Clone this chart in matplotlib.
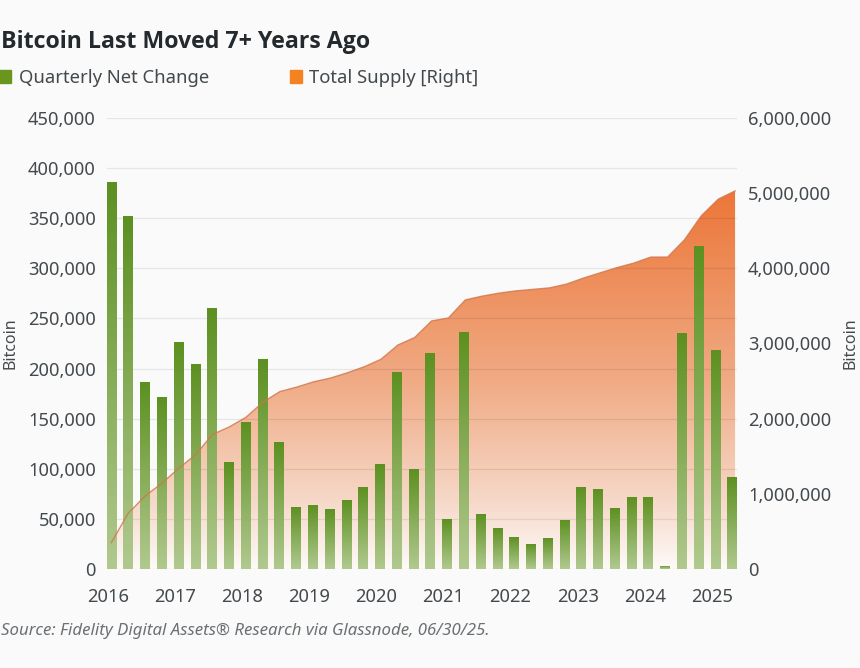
#!/usr/bin/env python3
"""Bitcoin last moved 7+ years ago: quarterly net change bars, total supply area."""

import matplotlib

matplotlib.use("Agg")
import matplotlib.pyplot as plt
import numpy as np
from matplotlib.colors import LinearSegmentedColormap
from matplotlib.patches import Patch
from matplotlib.ticker import FuncFormatter

plt.rcParams["font.family"] = ["Noto Sans", "DejaVu Sans"]

# One value per quarter, 2016 Q1 to 2025 Q2
net_change = [
    386000, 352000, 187000, 172000,
    226000, 205000, 260000, 107000,
    147000, 210000, 127000, 62000,
    64000, 60000, 69000, 82000,
    105000, 197000, 100000, 216000,
    50000, 236000, 55000, 41000,
    32000, 25000, 31000, 49000,
    82000, 80000, 61000, 72000,
    72000, 3000, 235000, 322000,
    219000, 92000,
]
total_supply = [
    350000, 740000, 970000, 1140000,
    1340000, 1520000, 1790000, 1890000,
    2020000, 2220000, 2360000, 2420000,
    2490000, 2540000, 2610000, 2690000,
    2790000, 2980000, 3080000, 3300000,
    3340000, 3580000, 3630000, 3670000,
    3700000, 3720000, 3740000, 3790000,
    3870000, 3940000, 4010000, 4070000,
    4150000, 4150000, 4380000, 4700000,
    4920000, 5030000,
]
year_labels = ["2016", "2017", "2018", "2019", "2020", "2021", "2022", "2023", "2024", "2025"]
left_ticks = [0, 50000, 100000, 150000, 200000, 250000, 300000, 350000, 400000, 450000]
right_ticks = [0, 1000000, 2000000, 3000000, 4000000, 5000000, 6000000]

BACKGROUND = "#fafafa"
TEXT_COLOR = "#43494d"
TITLE_COLOR = "#23292d"
GREEN = "#6a961f"
ORANGE = "#f58220"

WIDTH, HEIGHT = 860, 668
PLOT_LEFT, PLOT_RIGHT, PLOT_TOP, PLOT_BOTTOM = 107, 737, 118, 569

BAR_CMAP = LinearSegmentedColormap.from_list("bar", ["#b1c98f", "#5c9020"])
AREA_CMAP = LinearSegmentedColormap.from_list(
    "area",
    [(0.0, "#fdfaf8"), (0.18, "#f6d8c8"), (0.5, "#f0aa84"), (1.0, "#ec7638")],
)

fig = plt.figure(figsize=(WIDTH / 100, HEIGHT / 100), dpi=100, facecolor=BACKGROUND)
rect = [
    PLOT_LEFT / WIDTH,
    1 - PLOT_BOTTOM / HEIGHT,
    (PLOT_RIGHT - PLOT_LEFT) / WIDTH,
    (PLOT_BOTTOM - PLOT_TOP) / HEIGHT,
]

# Three stacked layers: area at the back, bars in the middle, supply line on top
ax_area = fig.add_axes(rect, facecolor=BACKGROUND)
ax = ax_area.twinx()
ax_line = ax_area.twinx()
ax.yaxis.tick_left()
ax.yaxis.set_label_position("left")
ax_area.yaxis.tick_right()
ax_area.yaxis.set_label_position("right")
ax_area.set_zorder(1)
ax.set_zorder(2)
ax_line.set_zorder(3)
ax.patch.set_visible(False)
ax_line.patch.set_visible(False)

quarters = np.arange(len(net_change))
xlim = (-0.256, 37.3)
supply_x = quarters * 1.005

# Supply area, gradient clipped to the filled polygon
poly = ax_area.fill_between(supply_x, total_supply, 0, color="none", linewidth=0)
grad = np.linspace(1, 0, 256).reshape(-1, 1)
top = max(total_supply)
img = ax_area.imshow(grad, extent=[xlim[0], xlim[1], 0, top], aspect="auto",
                     cmap=AREA_CMAP, vmin=0, vmax=1, zorder=1)
img.set_clip_path(poly.get_paths()[0], ax_area.transData)
ax_line.plot(supply_x, total_supply, color="#d2754a", linewidth=1.0, alpha=0.8)

# Bars, each with its own top-to-bottom gradient
bars = ax.bar(quarters, net_change, width=0.55, color=GREEN, zorder=3)
for bar in bars:
    x0, w, h = bar.get_x(), bar.get_width(), bar.get_height()
    bar_img = ax.imshow(grad, extent=[x0, x0 + w, 0, h], aspect="auto",
                        cmap=BAR_CMAP, vmin=0, vmax=1, zorder=4)
    bar_img.set_clip_path(bar)

for a in (ax_area, ax, ax_line):
    a.set_xlim(*xlim)
    for spine in a.spines.values():
        spine.set_visible(False)

ax.set_ylim(0, 450000)
ax.set_yticks(left_ticks)
ax.yaxis.set_major_formatter(FuncFormatter(lambda v, _pos: f"{int(v):,}"))
ax.grid(True, axis="y", color="black", linewidth=0.9, alpha=0.08, zorder=1)
ax.set_axisbelow(True)
ax.tick_params(axis="y", length=0, pad=8, labelsize=13.2, labelcolor=TEXT_COLOR)
ax.set_ylabel("Bitcoin", fontsize=11.5, color=TEXT_COLOR)
ax.yaxis.set_label_coords(-0.14, 0.5)

ax_area.set_ylim(0, 6000000)
ax_area.set_yticks(right_ticks)
ax_area.yaxis.set_major_formatter(FuncFormatter(lambda v, _pos: f"{int(v):,}"))
ax_area.tick_params(axis="y", length=0, pad=8, labelsize=13.2, labelcolor=TEXT_COLOR)
ax_area.set_ylabel("Bitcoin", fontsize=11.5, color=TEXT_COLOR)
ax_area.yaxis.set_label_coords(1.168, 0.5)

ax_line.set_ylim(0, 6000000)
ax_line.set_yticks([])

ax_area.set_xticks(np.arange(len(year_labels)) * 4 - 0.2, year_labels)
ax_area.tick_params(axis="x", length=0, pad=14, labelsize=13.2, labelcolor=TEXT_COLOR)
ax.tick_params(axis="x", length=0, labelbottom=False)
ax_line.tick_params(axis="x", length=0, labelbottom=False)

fig.text(1 / WIDTH, 1 - 42.5 / HEIGHT, "Bitcoin Last Moved 7+ Years Ago", fontsize=16.7,
         family="Open Sans", fontweight="bold", color=TITLE_COLOR, va="center", ha="left")
fig.text(1 / WIDTH, 1 - 631 / HEIGHT, "Source: Fidelity Digital Assets® Research via Glassnode, 06/30/25.",
         fontsize=12.1, style="italic", color="#6b7074", va="center", ha="left")

handles = [Patch(color=GREEN, label="Quarterly Net Change"), Patch(color=ORANGE, label="Total Supply [Right]")]
fig.legend(handles=handles, ncols=2, frameon=False, loc="center left",
           bbox_to_anchor=(-0.001, 1 - 78 / HEIGHT), borderaxespad=0, borderpad=0,
           fontsize=13.3, labelcolor=TEXT_COLOR, handlelength=0.65, handleheight=0.65,
           handletextpad=0.42, columnspacing=4.35)

fig.savefig("out.png", dpi=100, facecolor=BACKGROUND)
